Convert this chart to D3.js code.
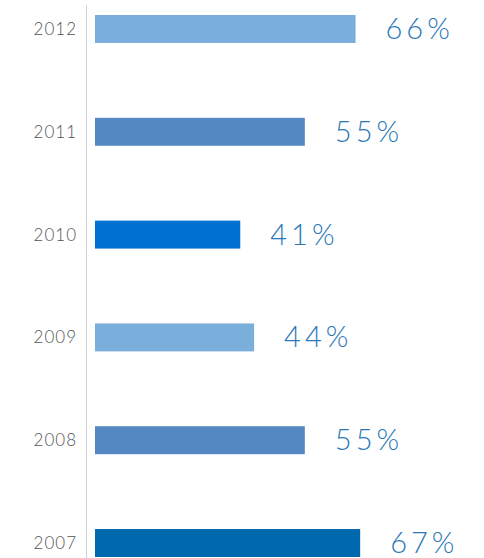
<!DOCTYPE html>
<html>
<head>
<meta charset="utf-8">
<script src="https://cdn.jsdelivr.net/npm/d3@7"></script>
<style>
  body { margin: 0; background: #fff; }
</style>
</head>
<body>
<div id="chart-area"></div>
<script>
var years = ["2012", "2011", "2010", "2009", "2008", "2007"];
var values = [66, 55, 41, 44, 55, 67];
var colors = ["#7aaedb", "#5388c3", "#0071d1", "#7aaedb", "#5388c3", "#0068ac"];

var width = 484, height = 558;

var svg = d3.select("#chart-area").append("svg")
    .attr("width", width)
    .attr("height", height);

var data = years.map((y, i) => ({ year: y, value: values[i], color: colors[i] }));

var x = d3.scaleLinear()
    .domain([9.5, 70])
    .range([95, 374]);

var y = d3.scaleBand()
    .domain(years)
    .range([15, 557])
    .paddingInner(0.728)
    .paddingOuter(0);

// axis line
svg.append("line")
    .attr("x1", 86.5).attr("x2", 86.5)
    .attr("y1", 5).attr("y2", height)
    .attr("stroke", "#cfd3d6")
    .attr("stroke-width", 1);

svg.selectAll("rect.bar")
    .data(data)
    .enter()
    .append("rect")
    .attr("class", "bar")
    .attr("x", x(9.5))
    .attr("y", d => y(d.year))
    .attr("width", d => x(d.value) - x(9.5))
    .attr("height", y.bandwidth())
    .attr("fill", d => d.color);

// year labels
svg.selectAll("text.year")
    .data(data)
    .enter()
    .append("text")
    .attr("class", "year")
    .attr("x", 77)
    .attr("y", d => y(d.year) + y.bandwidth() / 2 + 6)
    .attr("text-anchor", "end")
    .attr("font-family", "Lato, sans-serif")
    .attr("font-weight", 300)
    .attr("font-size", "17px")
    .attr("letter-spacing", "1px")
    .attr("fill", "#555")
    .text(d => d.year);

// value labels
svg.selectAll("text.value")
    .data(data)
    .enter()
    .append("text")
    .attr("class", "value")
    .attr("x", d => x(d.value) + 30)
    .attr("y", d => y(d.year) + y.bandwidth() / 2 + 10)
    .attr("font-family", "Lato, sans-serif")
    .attr("font-weight", 300)
    .attr("font-size", "29px")
    .attr("letter-spacing", "4px")
    .attr("fill", "#2a78b8")
    .text(d => d.value + "%");
</script>
</body>
</html>
